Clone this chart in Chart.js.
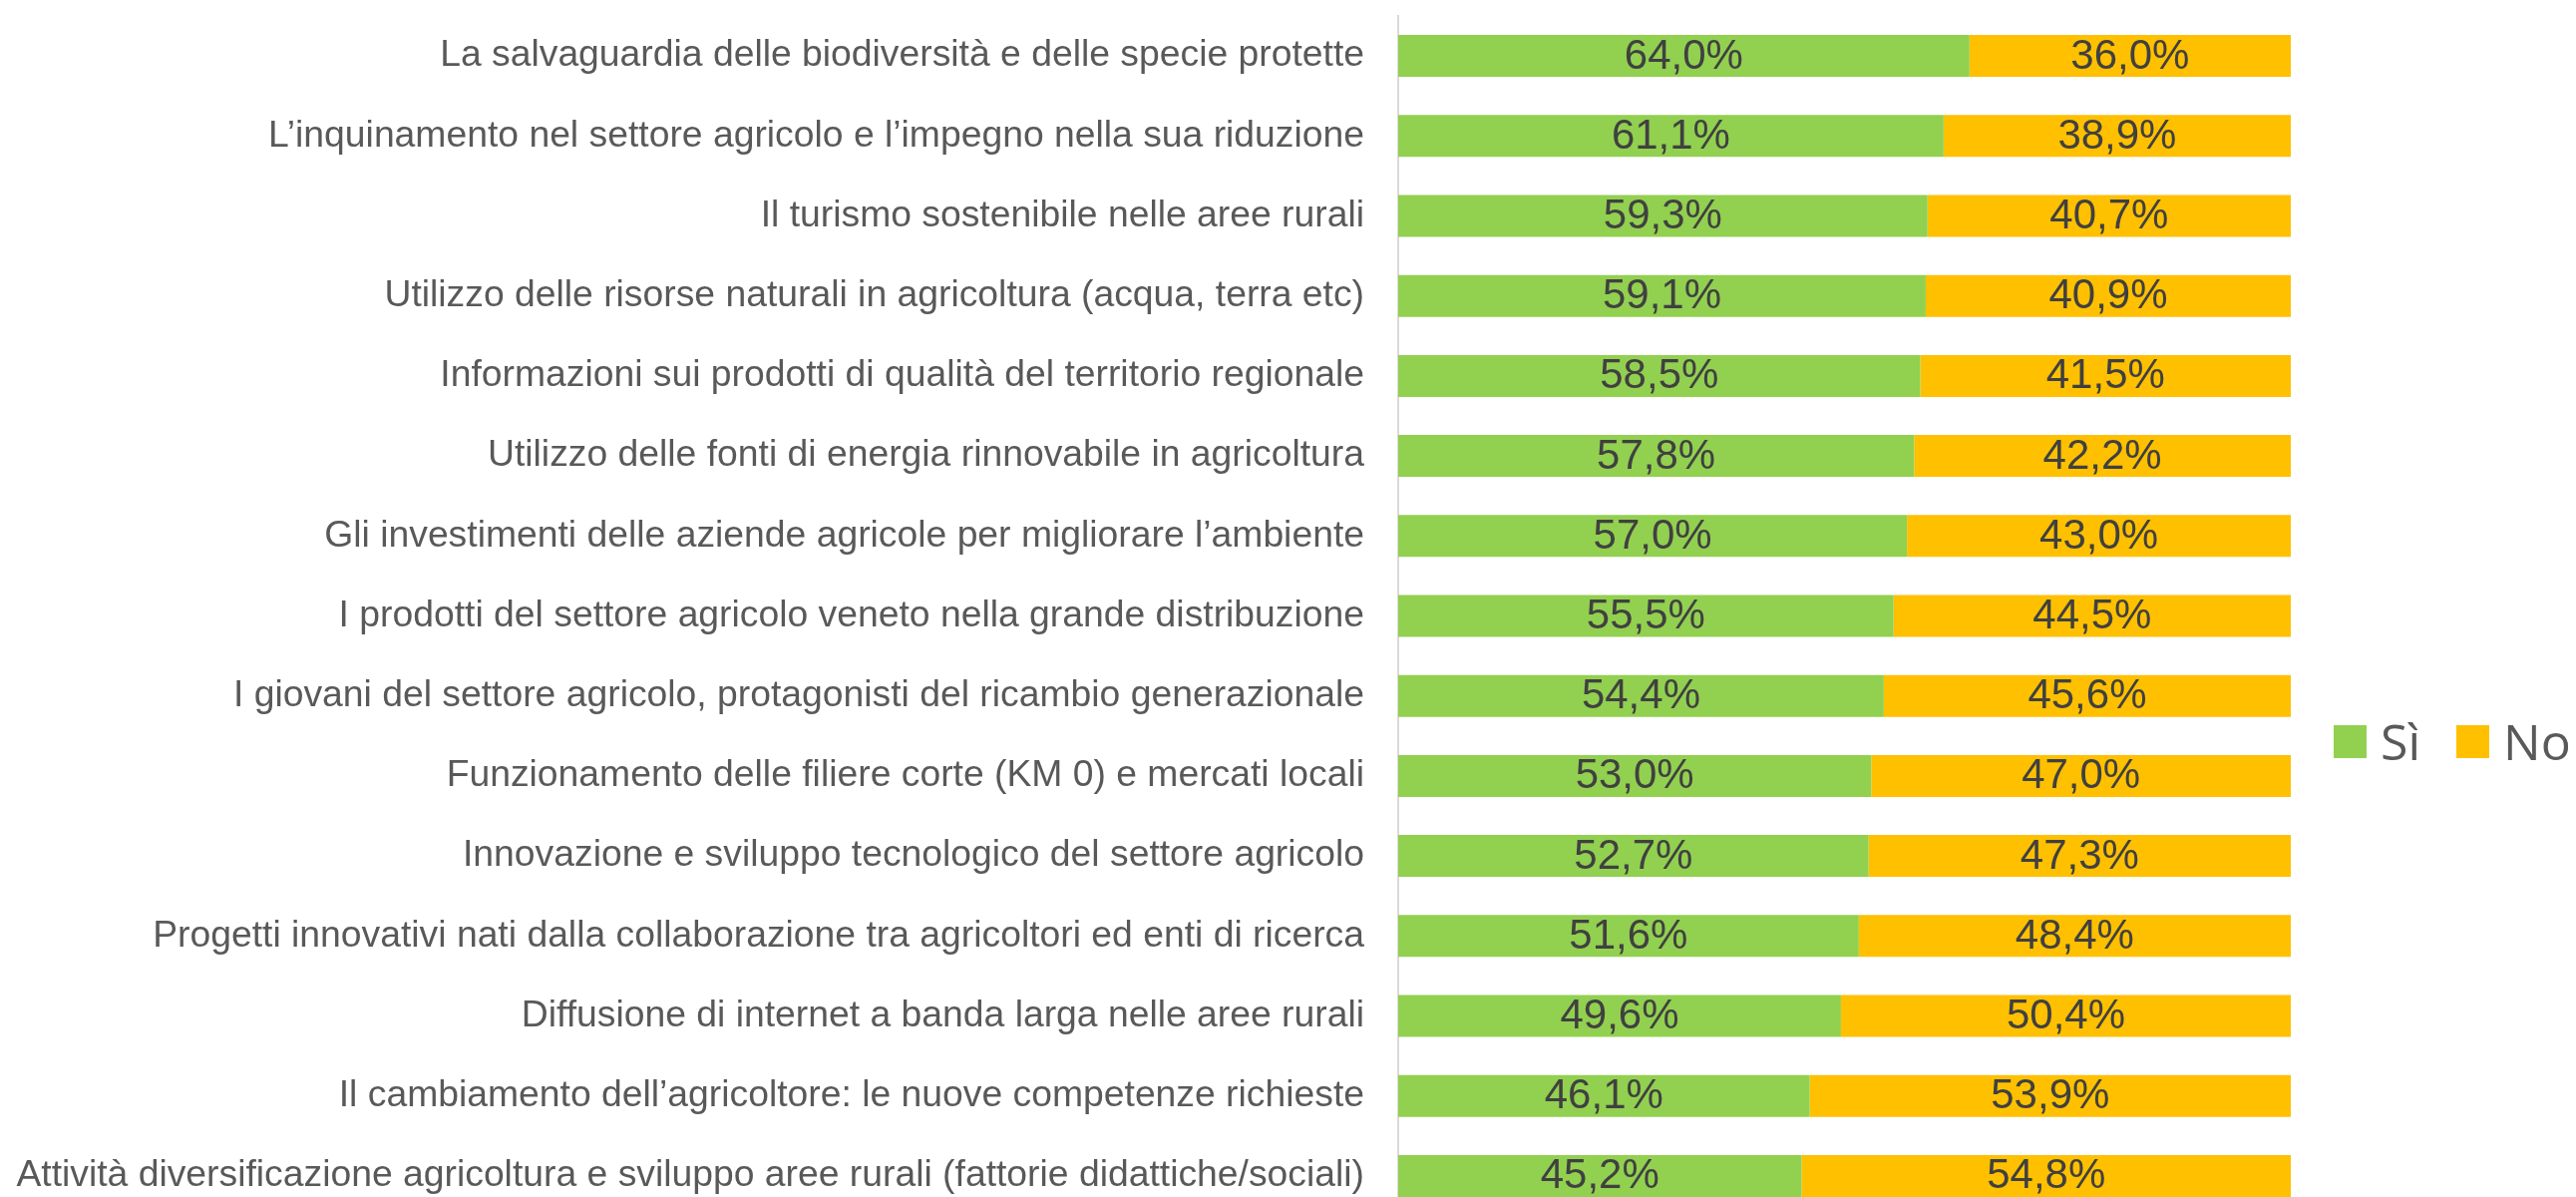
<!DOCTYPE html>
<html>
<head>
<meta charset="utf-8">
<script src="https://cdn.jsdelivr.net/npm/chart.js@4/dist/chart.umd.min.js"></script>
<style>
  html, body { margin: 0; padding: 0; background: #fff; overflow: hidden; }
  #wrap { position: absolute; left: 0; top: 0; width: 2583px; height: 1219px; }
  #legend { position: absolute; left: 2340px; top: 743px; transform: translateY(-50%); display: flex; align-items: center; }
  .item { display: flex; align-items: center; margin-right: 36px; }
  .box { width: 33px; height: 33px; margin-right: 14px; }
  .txt { font-family: "Open Sans", sans-serif; font-size: 50px; color: #595959; line-height: 1; }
</style>
</head>
<body>
<div id="wrap"><canvas id="chart"></canvas></div>
<div id="legend"></div>
<script>
// DATA
const categories = [
  'La salvaguardia delle biodiversità e delle specie protette',
  'L’inquinamento nel settore agricolo e l’impegno nella sua riduzione',
  'Il turismo sostenibile nelle aree rurali',
  'Utilizzo delle risorse naturali in agricoltura (acqua, terra etc)',
  'Informazioni sui prodotti di qualità del territorio regionale',
  'Utilizzo delle fonti di energia rinnovabile in agricoltura',
  'Gli investimenti delle aziende agricole per migliorare l’ambiente',
  'I prodotti del settore agricolo veneto nella grande distribuzione',
  'I giovani del settore agricolo, protagonisti del ricambio generazionale',
  'Funzionamento delle filiere corte (KM 0) e mercati locali',
  'Innovazione e sviluppo tecnologico del settore agricolo',
  'Progetti innovativi nati dalla collaborazione tra agricoltori ed enti di ricerca',
  'Diffusione di internet a banda larga nelle aree rurali',
  'Il cambiamento dell’agricoltore: le nuove competenze richieste',
  'Attività diversificazione agricoltura e sviluppo aree rurali (fattorie didattiche/sociali)'
];
const siValues = [64.0, 61.1, 59.3, 59.1, 58.5, 57.8, 57.0, 55.5, 54.4, 53.0, 52.7, 51.6, 49.6, 46.1, 45.2];
const noValues = [36.0, 38.9, 40.7, 40.9, 41.5, 42.2, 43.0, 44.5, 45.6, 47.0, 47.3, 48.4, 50.4, 53.9, 54.8];
const seriesNames = ['Sì', 'No'];
const seriesColors = ['#92D050', '#FFC000'];

const fmt = (v) => v.toFixed(1).replace('.', ',') + '%';

// labels in the middle of each bar piece
const barLabels = {
  id: 'barLabels',
  afterDatasetsDraw(chart) {
    const ctx = chart.ctx;
    ctx.save();
    ctx.font = '42px "Liberation Sans", Arial, sans-serif';
    ctx.fillStyle = '#404040';
    ctx.textAlign = 'center';
    ctx.textBaseline = 'middle';
    chart.data.datasets.forEach((ds, i) => {
      chart.getDatasetMeta(i).data.forEach((bar, j) => {
        const p = bar.getCenterPoint();
        ctx.fillText(fmt(ds.data[j]), p.x, p.y + 1);
      });
    });
    ctx.restore();
  }
};

const ctx = document.getElementById('chart');
const chart = new Chart(ctx, {
  type: 'bar',
  data: {
    labels: categories,
    datasets: [
      { label: seriesNames[0], data: siValues, backgroundColor: seriesColors[0] },
      { label: seriesNames[1], data: noValues, backgroundColor: seriesColors[1] }
    ]
  },
  options: {
    indexAxis: 'y',
    responsive: true,
    maintainAspectRatio: false,
    animation: false,
    layout: { padding: { left: 0, right: 286, top: 16, bottom: 0 } },
    datasets: { bar: { categoryPercentage: 1, barPercentage: 0.524, borderWidth: 0 } },
    plugins: {
      legend: { display: false },
      tooltip: { enabled: false }
    },
    scales: {
      x: { stacked: true, min: 0, max: 100, display: false },
      y: {
        stacked: true,
        afterFit: (scale) => {
          scale.width = 1402;
          scale.paddingTop = 0;
          scale.paddingBottom = 0;
        },
        grid: { display: true, drawOnChartArea: false, drawTicks: false },
        border: { display: true, color: '#d9d9d9', width: 2 },
        ticks: {
          padding: 34,
          color: '#595959',
          font: { family: '"Liberation Sans", Arial, sans-serif', size: 37.3 }
        }
      }
    }
  },
  plugins: [barLabels]
});

// LEGEND
const legend = document.getElementById('legend');
chart.data.datasets.forEach((ds) => {
  const item = document.createElement('div');
  item.className = 'item';
  item.innerHTML = `<div class="box" style="background:${ds.backgroundColor}"></div><span class="txt">${ds.label}</span>`;
  legend.appendChild(item);
});
</script>
</body>
</html>
